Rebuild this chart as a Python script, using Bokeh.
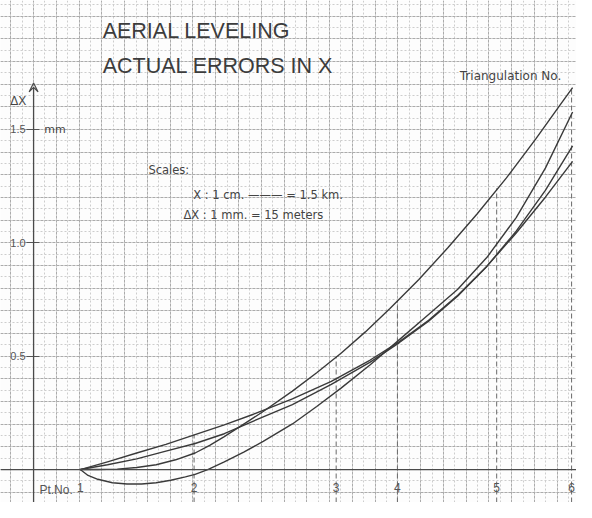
from bokeh.plotting import figure
from bokeh.models import (Range1d, LinearAxis, FixedTicker, Grid, SingleIntervalTicker,
                          Span, Arrow, VeeHead)
from bokeh.core.properties import value
from bokeh.embed import file_html
from bokeh.resources import INLINE

# ---------------- data (x in cm of drawing, y = delta X in mm) ----------------
pt_labels = ["1", "2", "3", "4", "5", "6"]
pt_x = [2.05, 7.05, 13.29, 15.98, 20.34, 23.63]
ordinate_top = [0.0, 0.155, 0.50, 0.745, 1.24, 1.68]

y_ticks = [0.5, 1.0, 1.5]
y_tick_labels = ["0.5", "1.0", "1.5"]

# Triangulation 1 (starts flat, ends highest)
t1_x = [2.051, 2.821, 3.675, 4.530, 5.385, 6.239, 7.094, 7.735, 8.376, 9.231, 10.085,
        11.368, 12.436, 13.504, 14.573, 15.641, 16.923, 18.205, 19.487, 20.769, 22.051,
        23.120, 23.675]
t1_y = [0.0, 0.0, 0.002, 0.009, 0.021, 0.043, 0.073, 0.107, 0.145, 0.200, 0.256,
        0.346, 0.427, 0.513, 0.607, 0.709, 0.838, 0.979, 1.128, 1.286, 1.457,
        1.607, 1.684]

# Triangulation 2 (dips below zero first)
t2_x = [2.051, 2.393, 2.821, 3.462, 4.103, 4.744, 5.385, 6.026, 6.667, 7.094, 7.650,
        8.376, 9.231, 10.085, 11.368, 12.436, 13.504, 14.786, 16.068, 17.350, 18.632,
        19.915, 21.197, 22.479, 23.675]
t2_y = [0.0, -0.026, -0.043, -0.058, -0.064, -0.064, -0.058, -0.047, -0.032, -0.021, 0.0,
        0.034, 0.077, 0.124, 0.201, 0.278, 0.359, 0.462, 0.573, 0.684, 0.795,
        0.936, 1.111, 1.329, 1.577]

# Triangulation 3
t3_x = [2.051, 3.248, 4.530, 5.812, 7.094, 8.376, 9.658, 11.368, 13.077, 14.786,
        16.068, 17.350, 18.632, 19.915, 21.197, 22.479, 23.675]
t3_y = [0.0, 0.021, 0.047, 0.081, 0.115, 0.158, 0.214, 0.286, 0.376, 0.474,
        0.560, 0.654, 0.765, 0.897, 1.051, 1.231, 1.427]

# Triangulation 4 (nearly straight at start)
t4_x = [2.051, 3.248, 4.530, 5.812, 7.094, 8.376, 9.658, 11.368, 13.077, 14.786,
        16.068, 17.350, 18.632, 19.915, 21.197, 22.479, 23.675]
t4_y = [0.0, 0.034, 0.073, 0.111, 0.154, 0.197, 0.244, 0.312, 0.389, 0.483,
        0.564, 0.658, 0.769, 0.897, 1.043, 1.201, 1.359]

# ---------------- figure ----------------
p = figure(width=576, height=502, output_backend="svg", toolbar_location=None,
           x_range=Range1d(-1.453, 23.846), y_range=Range1d(-0.1453, 2.0684),
           x_axis_type=None, y_axis_type=None, min_border=0)
p.outline_line_color = None
p.background_fill_color = "#fdfdfd"
p.border_fill_color = "#fdfdfd"

# graph-paper grid
for dim, interval in ((0, 1.0), (1, 0.1)):
    g = Grid(dimension=dim, ticker=SingleIntervalTicker(interval=interval, num_minor_ticks=2))
    g.grid_line_color = "#ababab"
    g.grid_line_dash = "3 1"
    g.grid_line_width = 1
    g.minor_grid_line_color = "#cdcdcd"
    g.minor_grid_line_dash = "2 2"
    p.add_layout(g)

INK = "#3a3a3a"
SMALL = value("DejaVu Sans")
F = value("Liberation Sans")

# axes drawn at the origin
yaxis = LinearAxis(fixed_location=0, ticker=FixedTicker(ticks=y_ticks),
                   major_label_overrides={t: l for t, l in zip(y_ticks, y_tick_labels)},
                   axis_line_color=None, major_tick_in=6, major_tick_out=7,
                   major_tick_line_color="#555555", minor_tick_line_color=None,
                   major_label_standoff=1, major_label_text_font_size="11px",
                   major_label_text_font="Liberation Sans", major_label_text_color="#555555")
p.add_layout(yaxis, "left")

xaxis = LinearAxis(fixed_location=0, ticker=FixedTicker(ticks=pt_x),
                   major_label_overrides={t: l for t, l in zip(pt_x, pt_labels)},
                   axis_line_color=None, major_tick_line_color=None, minor_tick_line_color=None,
                   major_tick_in=0, major_tick_out=0, major_label_standoff=13,
                   major_label_text_font_size="12px", major_label_text_font="Liberation Sans",
                   major_label_text_color="#555555")
p.add_layout(xaxis, "below")

p.add_layout(Span(location=0, dimension="width", line_color="#4a4a4a", line_width=1.3))
p.add_layout(Arrow(end=VeeHead(size=9, line_color="#4a4a4a", line_width=1.2, fill_color=None),
                   x_start=0, y_start=-0.1453, x_end=0, y_end=1.705,
                   line_color="#4a4a4a", line_width=1.3))

# ordinate dashed lines at points
p.segment(x0=pt_x[1:], y0=[-0.1453] * 5, x1=pt_x[1:], y1=ordinate_top[1:],
          line_color="#6a6a6a", line_dash="5 3", line_width=1)

# curves
for xs, ys in ((t1_x, t1_y), (t2_x, t2_y), (t3_x, t3_y), (t4_x, t4_y)):
    p.line(xs, ys, line_color=INK, line_width=1.4, line_join="round")

# texts
p.text(x=[3.034, 3.034], y=[1.932, 1.778], text=["AERIAL LEVELING", "ACTUAL ERRORS IN X"],
       text_font=F, text_font_size="21.5px", text_color="#3c3c3c", text_baseline="middle")
p.text(x=[18.72], y=[1.735], text=["Triangulation No."], text_font=SMALL,
       text_font_size="12px", text_color="#444444", text_baseline="middle")
p.text(x=[-1.026], y=[1.624], text=["\u0394X"], text_font=F, text_font_size="12px",
       text_color="#444444", text_baseline="middle")
p.text(x=[0.47], y=[1.5], text=["mm"], text_font=SMALL, text_font_size="11px",
       text_color="#444444", text_baseline="middle")
p.text(x=[5.043], y=[1.321], text=["Scales:"], text_font=SMALL, text_font_size="11.5px",
       text_color="#444444", text_baseline="middle")
p.text(x=[7.01, 6.58], y=[1.209, 1.124],
       text=["X : 1 cm. \u2014\u2014\u2014 = 1.5 km.", "\u0394X : 1 mm. = 15 meters"],
       text_font=SMALL, text_font_size="11.5px", text_color="#444444", text_baseline="middle")
p.text(x=[0.256], y=[-0.0897], text=["Pt.No."], text_font=F, text_font_size="12px",
       text_color="#555555", text_baseline="middle")

open("out.html", "w").write(file_html(p, INLINE))
